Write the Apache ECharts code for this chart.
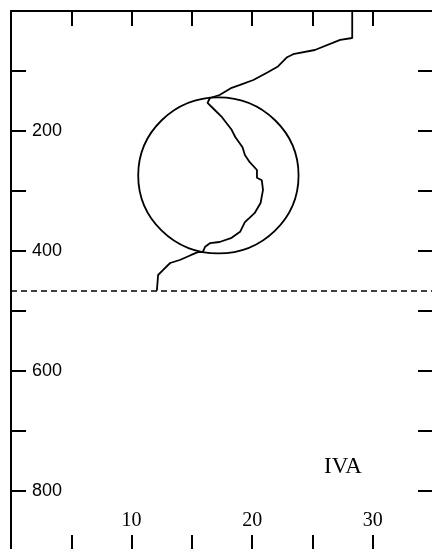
<!DOCTYPE html>
<html><head><meta charset="utf-8">
<script src="https://cdn.jsdelivr.net/npm/echarts@6/dist/echarts.min.js"></script>
<style>html,body{margin:0;padding:0;background:#fff}#c{width:432px;height:549px}</style>
</head><body><div id="c"></div>
<script>
// x tick labels shown, y tick labels shown
const xTickLabels = [10, 20, 30];
const yTickLabels = [200, 400, 600, 800];
// trace (x value, depth value)
const traceX = [28.3, 28.3, 27.3, 25.2, 23.4, 22.9, 22.1, 21.3, 20.1, 19.0, 18.3, 17.3, 16.5, 16.3, 16.9, 17.5, 18.3, 18.6, 19.2, 19.4, 19.8, 20.4, 20.4, 20.8, 20.9, 20.7, 20.2, 19.4, 19.0, 18.3, 17.3, 16.5, 16.1, 15.9, 15.5, 14.9, 14.0, 13.2, 12.6, 12.2, 12.1, 12.1];
const traceY = [0, 45, 48, 65, 72, 77, 93, 102, 115, 123, 128, 140, 145, 153, 165, 177, 198, 210, 227, 240, 252, 265, 278, 282, 298, 320, 337, 352, 368, 378, 385, 387, 393, 402, 402, 407, 415, 420, 432, 440, 440, 466];
// circle: center (x, depth) and radii (x units, depth units)
const circleCenter = [17.2, 274];
const circleRadius = [6.65, 130];
// dashed horizontal reference level
const baselineLevel = [466];
const panelLabel = 'IVA';

const chart = echarts.init(document.getElementById('c'));
const black = '#000';
const axisCommon = {
  type: 'value', min: 0, splitLine: {show: false},
  axisLine: {show: true, onZero: false, lineStyle: {color: black, width: 2}},
  axisTick: {show: true, inside: true, length: 15, lineStyle: {color: black, width: 2}}
};
chart.setOption({
  animation: false,
  backgroundColor: '#fff',
  grid: {left: 11, top: 11, width: 422, height: 540, outerBoundsMode: 'none', containLabel: false},
  xAxis: [
    Object.assign({}, axisCommon, {position: 'bottom', max: 35, interval: 5,
      axisTick: {show: true, inside: true, length: 16, lineStyle: {color: black, width: 2}},
      axisLabel: {inside: true, margin: 20, color: black, fontFamily: 'Liberation Serif', fontSize: 20,
        formatter: v => xTickLabels.includes(v) ? String(v) : ''}}),
    Object.assign({}, axisCommon, {position: 'top', max: 35, interval: 5, axisLabel: {show: false}})
  ],
  yAxis: [
    Object.assign({}, axisCommon, {position: 'left', max: 900, interval: 100, inverse: true,
      axisLabel: {inside: true, margin: 21, color: black, fontFamily: 'Liberation Sans', fontSize: 18,
        formatter: v => yTickLabels.includes(v) ? String(v) : ''}}),
    Object.assign({}, axisCommon, {position: 'right', max: 900, interval: 100, inverse: true, axisLabel: {show: false}})
  ],
  graphic: [{type: 'text', left: 324, top: 455, style: {text: panelLabel, font: '23px "Liberation Serif"', fill: black}}],
  series: [
    {
      type: 'line', xAxisIndex: 0, yAxisIndex: 0,
      data: traceX.map((x, i) => [x, traceY[i]]),
      showSymbol: false, symbol: 'none',
      lineStyle: {color: black, width: 1.8},
      markLine: {silent: true, symbol: 'none', label: {show: false},
        lineStyle: {color: black, width: 1.6, type: [6, 4]},
        data: baselineLevel.map(v => ({yAxis: v}))}
    },
    {
      type: 'custom', xAxisIndex: 0, yAxisIndex: 0,
      data: [[circleCenter[0], circleCenter[1], circleRadius[0], circleRadius[1]]],
      renderItem: (params, api) => {
        const c = api.coord([api.value(0), api.value(1)]);
        const s = api.size([api.value(2), api.value(3)]);
        return {type: 'ellipse', shape: {cx: c[0], cy: c[1], rx: s[0], ry: s[1]},
          style: {fill: 'none', stroke: black, lineWidth: 1.8}};
      }
    }
  ]
});
</script>
</body></html>
